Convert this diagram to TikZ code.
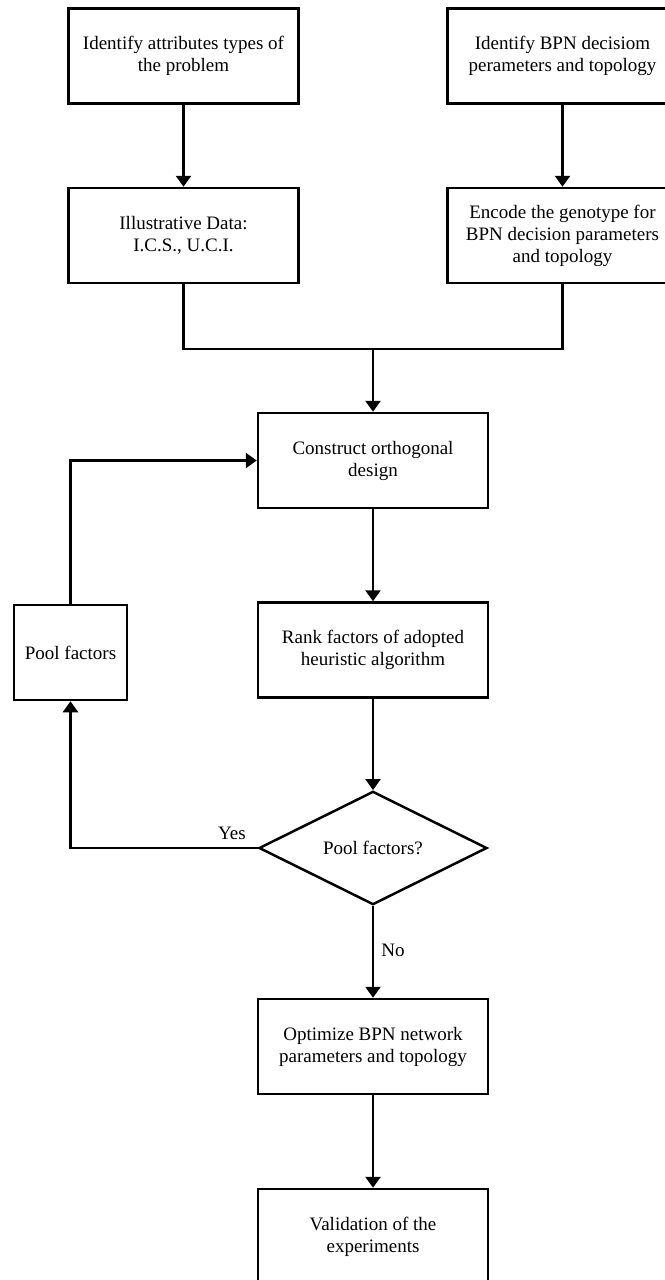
\documentclass[tikz,border=0pt]{standalone}
\usepackage{fontspec}
\setmainfont{Liberation Serif}
\usetikzlibrary{arrows.meta,shapes.geometric}
\begin{document}
\begin{tikzpicture}[x=1bp,y=-1bp,
  every node/.style={font=\fontsize{19bp}{22bp}\selectfont},
  box/.style={draw,line width=2.5bp,minimum width=230bp,minimum height=95bp,align=center,inner sep=2bp},
  smallbox/.style={draw,line width=2.5bp,minimum width=113bp,minimum height=95bp,align=center,inner sep=2bp},
  decision/.style={draw,line width=2.5bp,diamond,minimum width=228bp,minimum height=111bp,inner sep=0pt,align=center},
  conn/.style={line width=2.5bp},
  arr/.style={line width=2.5bp,-{Triangle[width=15bp,length=11bp]}},
  lbl/.style={inner sep=0pt}
]
\useasboundingbox (0,0) rectangle (665,1280);
\clip (0,0) rectangle (665,1280);
\fill[white] (0,0) rectangle (665,1280);

\node[box] (A) at (183.5,56) {Identify attributes types of\\the problem};
\node[box] (B) at (562.5,56) {Identify BPN decisiom\\perameters and topology};
\node[box] (C) at (183.5,235.5) {Illustrative Data:\\I.C.S., U.C.I.};
\node[box] (D) at (562.5,235.5) {Encode the genotype for\\BPN decision parameters\\and topology};
\node[box] (Con) at (373,460.5) {Construct orthogonal\\design};
\node[box] (Rank) at (373,650) {Rank factors of adopted\\heuristic algorithm};
\node[smallbox] (Pool) at (70.5,652.5) {Pool factors};
\node[decision] (Dia) at (373,848) {Pool factors?};
\node[box] (Opt) at (373,1046.5) {Optimize BPN network\\parameters and topology};
\node[box] (Val) at (373,1236.5) {Validation of the\\experiments};

\coordinate (m) at (373,349);

\draw[arr] (A) -- (C);
\draw[arr] (B) -- (D);
\draw[conn] (C.south) |- (m) -| (D.south);
\draw[arr] (m) -- (Con.north);
\draw[arr] (Con) -- (Rank);
\draw[arr] (Rank) -- (Dia.north);
\draw[arr] (Dia.west) -| (Pool.south);
\draw[arr] (Pool.north) |- (Con.west);
\draw[arr] (Dia.south) -- (Opt.north);
\draw[arr] (Opt) -- (Val);

\node[lbl] (yes) at (232,833) {Yes};
\node[lbl] (no) at (393,950) {No};
\end{tikzpicture}
\end{document}
